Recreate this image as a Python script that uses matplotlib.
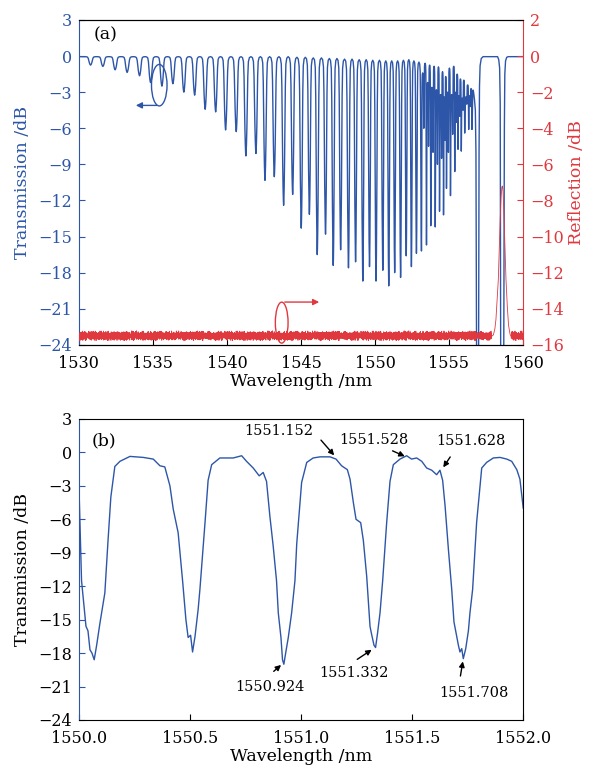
import numpy as np
import matplotlib
matplotlib.use('Agg')
import matplotlib.pyplot as plt
from matplotlib.patches import Ellipse

plt.rcParams['font.family'] = ['DejaVu Serif']
plt.rcParams['mathtext.fontset'] = 'dejavuserif'

BLUE = '#2d56a8'
RED = '#e0383f'

# ---- panel (a): transmission dips ----
dip_wl = [1530.79, 1531.62, 1532.45, 1533.26, 1534.10, 1534.84, 1535.61, 1536.35,
          1537.09, 1537.82, 1538.53, 1539.24, 1539.91, 1540.63, 1541.28, 1541.96,
          1542.57, 1543.20, 1543.83, 1544.44, 1545.02, 1545.57, 1546.10, 1546.66,
          1547.18, 1547.68, 1548.21, 1548.69, 1549.18, 1549.63, 1550.07, 1550.53,
          1550.93, 1551.33, 1551.73, 1552.11, 1552.46, 1552.80, 1553.14, 1553.30,
          1553.48, 1553.62, 1553.77, 1553.92, 1554.07, 1554.22, 1554.36, 1554.50,
          1554.63, 1554.73, 1554.83, 1554.96, 1555.10, 1555.25, 1555.39, 1555.50,
          1555.61, 1555.72, 1555.83, 1555.95, 1556.06, 1556.20, 1556.33, 1556.44,
          1556.55]
dip_db = [-0.75, -0.86, -1.14, -1.36, -1.64, -2.2, -2.5, -2.3,
          -3.0, -3.25, -4.42, -4.64, -6.14, -6.28, -8.3, -8.1,
          -10.33, -10.03, -12.4, -11.5, -14.3, -13.15, -16.5, -14.8,
          -17.4, -16.1, -17.6, -17.1, -18.7, -17.5, -18.7, -17.8,
          -19.1, -18.0, -18.4, -16.6, -17.5, -16.4, -16.2, -6.0,
          -15.7, -7.5, -14.1, -8.0, -14.2, -9.0, -12.9, -8.5,
          -13.2, -7.0, -11.0, -8.0, -11.6, -6.5, -9.6, -5.5,
          -7.75, -5.0, -7.9, -4.5, -6.4, -4.0, -6.1, -4.2,
          -6.1]
# level of the crest before each dip, plus the last crest
top_db = [-0.05, -0.05, -0.05, -0.05, -0.05, -0.05, -0.05, -0.05,
          -0.05, -0.05, -0.05, -0.05, -0.05, -0.05, -0.05, -0.05,
          -0.05, -0.05, -0.05, -0.05, -0.1, -0.1, -0.15, -0.15,
          -0.2, -0.2, -0.25, -0.25, -0.3, -0.3, -0.35, -0.35,
          -0.4, -0.4, -0.4, -0.35, -0.3, -0.4, -0.5, -1.4,
          -0.6, -2.2, -0.75, -2.6, -0.85, -2.8, -0.9, -3.2,
          -1.3, -3.4, -1.7, -3.0, -1.0, -3.2, -0.85, -3.0,
          -1.5, -3.3, -1.9, -3.5, -2.0, -3.4, -2.4, -3.3,
          -2.7, -2.8]

# stopband / notch region after the comb
tail_wl = [1556.66, 1556.72, 1556.78, 1556.82, 1556.86, 1556.90, 1556.96, 1557.00,
           1557.03, 1557.06, 1557.10, 1557.18, 1557.30, 1558.28, 1558.36, 1558.42,
           1558.46, 1558.49, 1558.54, 1558.64, 1558.70, 1558.74, 1558.77, 1558.82,
           1558.90, 1559.00, 1560.00]
tail_db = [-3.0, -3.6, -4.5, -8.0, -24.0, -30.0, -30.0, -24.0,
           -8.0, -2.5, -0.8, -0.2, -0.05, -0.05, -0.3, -1.0,
           -4.0, -24.0, -30.0, -30.0, -24.0, -6.0, -1.5, -0.4,
           -0.1, -0.05, -0.05]

# reflection: baseline level, two typed noise patterns and the peak
refl_base = -15.5
refl_noise = [0.12, -0.18, 0.05, 0.21, -0.09, -0.22, 0.15, 0.02, -0.14, 0.19,
              -0.05, 0.24, -0.20, 0.08, -0.11, 0.17, -0.24, 0.03, 0.13, -0.16,
              0.22, -0.07, -0.19, 0.10, 0.00, -0.13, 0.20, -0.23, 0.06, 0.16,
              -0.10, 0.23, -0.17, 0.04, -0.21, 0.11, 0.18, -0.08, -0.15, 0.09, -0.03]
refl_noise2 = [0.04, -0.09, 0.11, -0.02, 0.07, -0.12, 0.01, 0.09, -0.06, -0.10,
               0.12, -0.04, 0.06, 0.10, -0.11, 0.03, -0.07, 0.08, -0.01, -0.12,
               0.05, 0.11, -0.08, 0.02, -0.05, 0.09, -0.03, 0.12, -0.09]
peak_wl = [1557.85, 1558.00, 1558.10, 1558.17, 1558.22, 1558.28, 1558.33, 1558.40,
           1558.46, 1558.52, 1558.57, 1558.61, 1558.65, 1558.70, 1558.75, 1558.79,
           1558.85, 1558.94, 1559.02, 1559.12, 1559.20]
peak_db = [-15.55, -15.45, -15.1, -14.6, -13.9, -13.1, -12.4, -10.6,
           -9.0, -7.8, -7.25, -7.2, -7.5, -8.5, -9.8, -10.8,
           -12.4, -13.9, -14.9, -15.4, -15.55]

# ---- panel (b): zoomed transmission ----
b_wl = [1550.001, 1550.012, 1550.032, 1550.041, 1550.050, 1550.059, 1550.069, 1550.080,
        1550.095, 1550.117, 1550.131, 1550.144, 1550.162, 1550.185, 1550.230, 1550.290,
        1550.335, 1550.365, 1550.387, 1550.410, 1550.425, 1550.447, 1550.467, 1550.482,
        1550.492, 1550.503, 1550.512, 1550.523, 1550.537, 1550.545, 1550.568, 1550.582,
        1550.598, 1550.635, 1550.695, 1550.733, 1550.755, 1550.785, 1550.812, 1550.830,
        1550.845, 1550.860, 1550.875, 1550.890, 1550.898, 1550.910, 1550.917, 1550.923,
        1550.932, 1550.943, 1550.958, 1550.973, 1550.981, 1551.003, 1551.026, 1551.055,
        1551.086, 1551.131, 1551.158, 1551.183, 1551.209, 1551.221, 1551.236, 1551.248,
        1551.269, 1551.281, 1551.296, 1551.311, 1551.318, 1551.329, 1551.336, 1551.345,
        1551.356, 1551.368, 1551.386, 1551.401, 1551.416, 1551.446, 1551.476, 1551.498,
        1551.521, 1551.544, 1551.566, 1551.589, 1551.611, 1551.626, 1551.638, 1551.649,
        1551.664, 1551.679, 1551.689, 1551.709, 1551.716, 1551.724, 1551.731, 1551.742,
        1551.754, 1551.761, 1551.773, 1551.791, 1551.814, 1551.836, 1551.866, 1551.896,
        1551.927, 1551.949, 1551.972, 1551.986, 1552.001]
b_db = [-3.5, -11.5, -15.6, -16.0, -17.7, -18.0, -18.6, -17.3,
        -15.3, -12.6, -8.0, -4.0, -1.26, -0.8, -0.36, -0.45,
        -0.6, -1.2, -1.3, -3.0, -5.1, -7.2, -11.5, -15.0,
        -16.6, -16.4, -17.9, -16.5, -14.1, -12.3, -6.3, -2.5,
        -1.1, -0.5, -0.5, -0.3, -0.8, -1.4, -2.1, -1.8,
        -2.6, -5.7, -8.4, -11.5, -14.4, -16.6, -18.6, -19.0,
        -17.9, -16.6, -14.4, -11.5, -8.2, -2.7, -0.9, -0.5,
        -0.4, -0.4, -0.6, -1.2, -1.55, -2.4, -4.5, -6.0,
        -6.3, -7.9, -11.1, -15.6, -16.3, -17.3, -17.5, -16.2,
        -14.4, -11.5, -6.3, -2.6, -1.1, -0.6, -0.3, -0.6,
        -0.5, -0.8, -1.4, -1.6, -2.0, -1.6, -2.5, -4.8,
        -8.7, -12.3, -15.2, -17.3, -17.9, -17.6, -18.5, -17.6,
        -16.0, -14.4, -12.3, -6.3, -1.4, -0.9, -0.5, -0.45,
        -0.6, -0.8, -1.55, -2.4, -5.0]

b_labels = ['1551.152', '1551.528', '1551.628', '1550.924', '1551.332', '1551.708']
b_text_xy = [(1550.90, 1.9), (1551.33, 1.15), (1551.765, 1.0),
             (1550.86, -21.0), (1551.238, -19.75), (1551.78, -21.6)]
b_arrow_from = [(1551.082, 1.29), (1551.401, 0.24), (1551.679, -0.2),
                (1550.868, -19.8), (1551.243, -18.7), (1551.716, -20.3)]
b_arrow_to = [(1551.158, -0.45), (1551.479, -0.45), (1551.634, -1.55),
              (1550.92, -18.9), (1551.329, -17.56), (1551.731, -18.5)]

# dip profile used to draw each listed dip (fraction of half-gap, fraction of depth)
prof_f = [-1.0, -0.7, -0.5, -0.38, -0.28, -0.2, -0.12, -0.05, 0.0,
          0.05, 0.12, 0.2, 0.28, 0.38, 0.5, 0.7]
prof_w = [0.0, 0.01, 0.05, 0.2, 0.5, 0.72, 0.88, 0.97, 1.0,
          0.97, 0.88, 0.72, 0.5, 0.2, 0.05, 0.01]


def comb_trace():
    xs, ys = [1530.0], [top_db[0]]
    n = len(dip_wl)
    for i in range(n):
        c, d = dip_wl[i], dip_db[i]
        gl = (c - dip_wl[i - 1]) / 2 if i > 0 else (dip_wl[1] - dip_wl[0]) / 2
        gr = (dip_wl[i + 1] - c) / 2 if i < n - 1 else (tail_wl[0] - c)
        tl, tr = top_db[i], top_db[i + 1]
        for f, w in zip(prof_f, prof_w):
            if f < 0:
                xs.append(c + f * gl)
                ys.append(tl + (d - tl) * w)
            else:
                xs.append(c + f * gr)
                ys.append(tr + (d - tr) * w)
    xs += tail_wl
    ys += tail_db
    return np.array(xs), np.array(ys)


def noise_run(n, shift=0):
    a = np.resize(np.roll(np.array(refl_noise), shift), n)
    b = np.resize(np.array(refl_noise2), n)
    return refl_base + 0.8 * a + 0.7 * b


fig = plt.figure(figsize=(5.93, 7.68), dpi=100)
fig.patch.set_facecolor('white')

# ---------------- (a) ----------------
ax1 = fig.add_axes([0.133, 0.551, 0.749, 0.423])
tx, ty = comb_trace()
ax1.plot(tx, ty, color=BLUE, lw=1.0, zorder=2)
ax1.set_xlim(1530, 1560)
ax1.set_ylim(-24, 3)
ax1.set_xticks(np.arange(1530, 1561, 5))
ax1.set_yticks(np.arange(-24, 4, 3))
ax1.tick_params(direction='in', length=4, labelsize=11.5)
ax1.tick_params(axis='x', pad=7)
ax1.tick_params(axis='y', colors=BLUE, labelcolor=BLUE, pad=5)
ax1.tick_params(top=False, right=False)
ax1.spines['left'].set_color(BLUE)
ax1.spines['right'].set_visible(False)
ax1.set_xlabel('Wavelength /nm', fontsize=12.5, labelpad=1)
ax1.set_ylabel('Transmission /dB', fontsize=12.5, color=BLUE, labelpad=5)
ax1.text(1531.79, 1.8, '(a)', fontsize=12.5, ha='center', va='center')
ax1.add_patch(Ellipse((1535.43, -2.42), 1.05, 3.45, fill=False, ec=BLUE, lw=1.0))
ax1.annotate('', xy=(1533.66, -4.1), xytext=(1535.45, -4.1),
             arrowprops=dict(arrowstyle='-|>', color=BLUE, lw=1.0, mutation_scale=9))

ax2 = ax1.twinx()
n_left = 3600
xl = np.linspace(1530, peak_wl[0], n_left, endpoint=False)
yl = noise_run(n_left)
n_right = 90
xr = np.linspace(peak_wl[-1], 1560, n_right)[1:]
yr = noise_run(n_right - 1, shift=7)
rx = np.concatenate([xl, peak_wl, xr])
ry = np.concatenate([yl, peak_db, yr])
ax2.plot(rx, ry, color=RED, lw=0.6)
ax2.set_ylim(-16, 2)
ax2.set_yticks(np.arange(-16, 3, 2))
ax2.tick_params(direction='in', length=4, labelsize=11.5, colors=RED, labelcolor=RED, pad=5)
ax2.spines['right'].set_color(RED)
ax2.spines['left'].set_visible(False)
ax2.set_ylabel('Reflection /dB', fontsize=12.5, color=RED, labelpad=3)
ax2.add_patch(Ellipse((1543.70, -14.77), 0.86, 2.27, fill=False, ec=RED, lw=1.0))
ax2.annotate('', xy=(1546.42, -13.63), xytext=(1543.72, -13.63),
             arrowprops=dict(arrowstyle='-|>', color=RED, lw=1.0, mutation_scale=9))

# ---------------- (b) ----------------
ax3 = fig.add_axes([0.133, 0.0625, 0.749, 0.392])
ax3.plot(b_wl, b_db, color=BLUE, lw=1.0)
ax3.set_xlim(1550, 1552)
ax3.set_ylim(-24, 3)
ax3.set_xticks(np.arange(1550, 1552.01, 0.5))
ax3.set_xticklabels(['%.1f' % v for v in np.arange(1550, 1552.01, 0.5)])
ax3.set_yticks(np.arange(-24, 4, 3))
ax3.tick_params(direction='in', length=4, labelsize=11.5)
ax3.tick_params(axis='x', pad=7)
ax3.tick_params(axis='y', color=BLUE, pad=5)
ax3.spines['left'].set_color(BLUE)
ax3.set_xlabel('Wavelength /nm', fontsize=12.5, labelpad=1)
ax3.set_ylabel('Transmission /dB', fontsize=12.5, labelpad=5)
ax3.text(1550.113, 1.0, '(b)', fontsize=12.5, ha='center', va='center')
for lab, txy, a0, a1 in zip(b_labels, b_text_xy, b_arrow_from, b_arrow_to):
    ax3.text(txy[0], txy[1], lab, fontsize=10.5, ha='center', va='center')
    ax3.annotate('', xy=a1, xytext=a0,
                 arrowprops=dict(arrowstyle='-|>', color='k', lw=1.0, mutation_scale=8))

fig.savefig('out.png', dpi=100)
